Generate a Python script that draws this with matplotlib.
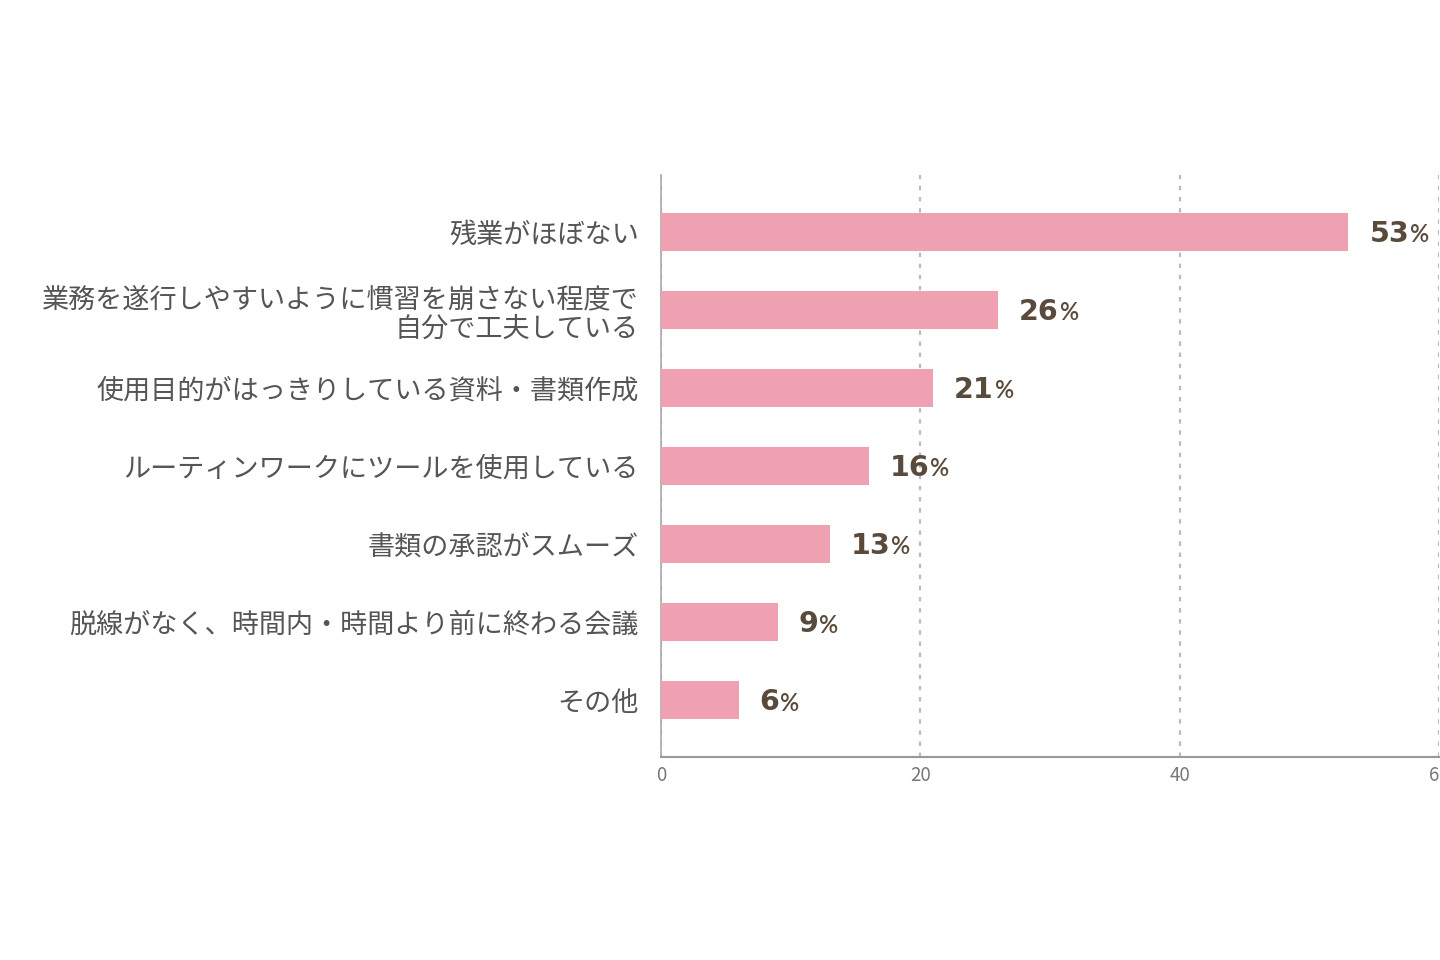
import matplotlib
matplotlib.use("Agg")
import matplotlib.pyplot as plt

categories = [
    "残業がほぼない",
    "業務を遂行しやすいように慣習を崩さない程度で\n自分で工夫している",
    "使用目的がはっきりしている資料・書類作成",
    "ルーティンワークにツールを使用している",
    "書類の承認がスムーズ",
    "脱線がなく、時間内・時間より前に終わる会議",
    "その他",
]
values = [53, 26, 21, 16, 13, 9, 6]
xticks = [0, 20, 40, 60]

plt.rcParams['font.family'] = ['Noto Sans CJK JP', 'DejaVu Sans']

fig = plt.figure(figsize=(14.4, 9.6), dpi=100)
ax = fig.add_axes([661/1440, 1-757/960, 1-661/1440 - 0.0005, (757-175)/960])

ypos = list(range(len(categories)))
ax.barh(ypos, values, height=0.49, color="#f0a1b1", zorder=3)
ax.set_ylim(6.73, -0.73)
ax.set_xlim(0, 60)
ax.set_yticks(ypos)
ax.set_yticklabels(categories, fontsize=19.5, color="#555555", linespacing=1.12)
ax.set_xticks(xticks)
ax.set_xticklabels([str(t) for t in xticks], fontsize=13.5, color="#777777")
ax.tick_params(axis='y', length=0, pad=16)
ax.tick_params(axis='x', length=0, pad=6)

ax.grid(axis='x', linestyle=(0, (2, 3)), color="#bbbbbb", linewidth=1.6, zorder=0)
ax.grid(axis='y', visible=False)
for s in ['top', 'right']:
    ax.spines[s].set_visible(False)
ax.spines['left'].set_color("#aaaaaa")
ax.spines['bottom'].set_color("#999999")
ax.spines['left'].set_linewidth(1.2)
ax.spines['bottom'].set_linewidth(1.5)

for y, v in zip(ypos, values):
    t = ax.annotate(str(v), xy=(v, y), xytext=(15, -1.5), textcoords='offset points',
                    ha='left', va='center', fontsize=20.5, fontweight='bold',
                    color="#5a4a3c", family=['DejaVu Sans'], annotation_clip=False)
    ax.annotate('%', xy=(1, 0.2), xycoords=t, xytext=(0.5, 0), textcoords='offset points',
                ha='left', va='baseline', fontsize=17, fontweight='semibold',
                color="#5a4a3c", family=['Lato', 'DejaVu Sans'], annotation_clip=False)

fig.savefig("out.png", dpi=100)
